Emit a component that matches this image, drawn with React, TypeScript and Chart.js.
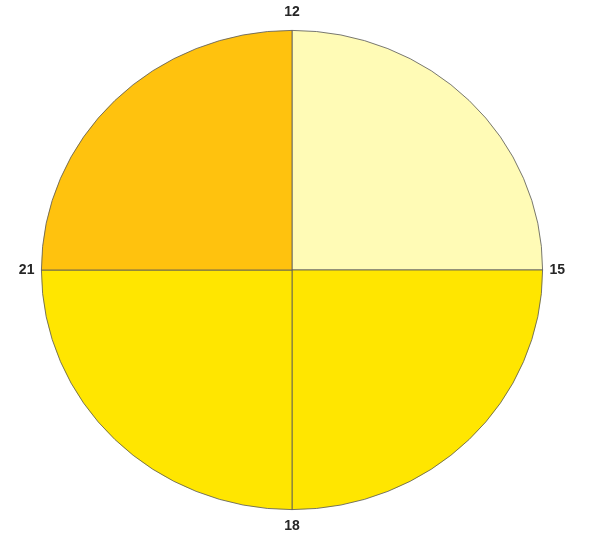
import React, { useEffect, useRef } from "react";
import { Chart, registerables } from "chart.js";

Chart.register(...registerables);

const hourTicks = ["12", "15", "18", "21"];
const sliceValues = [3, 3, 3, 3];
const sliceColors = ["#FFFBB6", "#FFE600", "#FFE600", "#FFC20E"];

const SCALE_X = 251 / 240;
const GAP_X = 7;
const GAP_Y = 18;

const ellipsePlugin = {
  id: "ellipse",
  beforeDatasetsDraw(chart: any) {
    const meta = chart.getDatasetMeta(0);
    const arc = meta.data[0];
    if (!arc) return;
    const { x, y } = arc;
    const ctx = chart.ctx;
    ctx.save();
    ctx.translate(x, y);
    ctx.scale(SCALE_X, 1);
    ctx.translate(-x, -y);
  },
  afterDatasetsDraw(chart: any) {
    const ctx = chart.ctx;
    ctx.restore();
    const meta = chart.getDatasetMeta(0);
    ctx.save();
    ctx.font = "bold 14px 'Liberation Sans', Arial, sans-serif";
    ctx.fillStyle = "#262626";
    ctx.textBaseline = "middle";
    meta.data.forEach((el: any, i: number) => {
      const a = el.startAngle;
      const c = Math.cos(a);
      const s = Math.sin(a);
      const rx = el.outerRadius * SCALE_X;
      const ry = el.outerRadius;
      let px = el.x + rx * c;
      let py = el.y + ry * s;
      if (Math.abs(c) > 0.5) {
        ctx.textAlign = c > 0 ? "left" : "right";
        px += c > 0 ? GAP_X : -GAP_X;
      } else {
        ctx.textAlign = "center";
        py += s > 0 ? GAP_Y - 1 : -GAP_Y;
      }
      ctx.fillText(hourTicks[i], px, py);
    });
    ctx.restore();
  },
};

export default function App() {
  const ref = useRef<HTMLCanvasElement | null>(null);
  useEffect(() => {
    if (!ref.current) return;
    const chart = new Chart(ref.current, {
      type: "pie",
      data: {
        labels: hourTicks,
        datasets: [
          {
            data: sliceValues,
            backgroundColor: sliceColors,
            borderColor: "#5a5a5a",
            borderWidth: 0.8,
            hoverOffset: 0,
          },
        ],
      },
      options: {
        responsive: false,
        animation: false,
        events: [],
        layout: { padding: { top: 30, bottom: 36, left: 52, right: 65 } },
        plugins: {
          legend: { display: false },
          tooltip: { enabled: false },
        },
      },
      plugins: [ellipsePlugin],
    });
    return () => chart.destroy();
  }, []);
  return (
    <div style={{ position: "fixed", left: 0, top: 0, width: 597, height: 546, background: "#fff" }}>
      <canvas ref={ref} width={597} height={546} />
    </div>
  );
}
